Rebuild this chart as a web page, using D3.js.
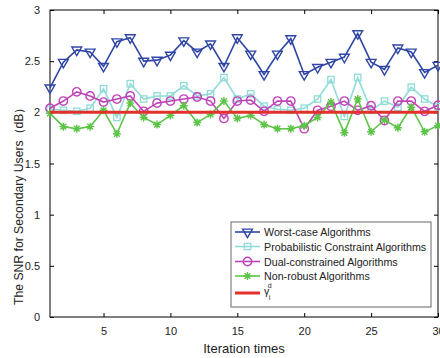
<!DOCTYPE html>
<html>
<head>
<meta charset="utf-8">
<script src="https://cdn.jsdelivr.net/npm/d3@7"></script>
<style>
  body { margin: 0; background: #fff; }
  text { font-family: "Liberation Sans", Arial, sans-serif; fill: #222; }
</style>
</head>
<body>
<div id="chart"></div>
<script>
// iteration index 1..30
const iterations = d3.range(1, 31);

const worstCase = [2.24, 2.49, 2.61, 2.59, 2.45, 2.69, 2.73, 2.50, 2.51, 2.56,
                   2.70, 2.59, 2.67, 2.45, 2.73, 2.57, 2.37, 2.57, 2.72, 2.37,
                   2.44, 2.49, 2.54, 2.77, 2.49, 2.42, 2.63, 2.59, 2.39, 2.46];
const probabilistic = [2.03, 2.02, 2.01, 2.04, 2.23, 1.95, 2.28, 2.13, 2.16, 2.16,
                       2.26, 2.16, 2.18, 2.34, 2.13, 2.18, 2.06, 2.03, 2.02, 2.04,
                       2.13, 2.32, 1.96, 2.34, 2.02, 2.11, 2.05, 2.245, 2.13, 2.055];
const dualConstrained = [2.04, 2.11, 2.20, 2.16, 2.10, 2.13, 2.16, 2.01, 2.09, 2.11,
                         2.13, 2.15, 2.11, 1.94, 2.11, 2.12, 2.01, 2.11, 2.11, 1.84,
                         2.02, 2.06, 2.11, 2.02, 2.065, 1.92, 2.11, 2.11, 2.01, 2.07];
const nonRobust = [1.99, 1.86, 1.84, 1.86, 2.02, 1.79, 2.09, 1.95, 1.88, 1.97,
                   2.065, 1.90, 1.98, 2.11, 1.94, 1.97, 1.88, 1.84, 1.84, 1.87,
                   1.95, 2.10, 1.80, 2.13, 1.81, 1.925, 1.85, 2.05, 1.81, 1.87];
const threshold = 2;

const xTicks = [5, 10, 15, 20, 25, 30];
const yTicks = [0, 0.5, 1, 1.5, 2, 2.5, 3];

const series = [
  { name: "Worst-case Algorithms", values: worstCase, color: "#2f46a6", marker: "tri" },
  { name: "Probabilistic Constraint Algorithms", values: probabilistic, color: "#8fdcd8", marker: "square" },
  { name: "Dual-constrained Algorithms", values: dualConstrained, color: "#c044b8", marker: "circle" },
  { name: "Non-robust Algorithms", values: nonRobust, color: "#5cc447", marker: "star" }
];

const width = 440, height = 358;
const margin = { left: 50, right: 2, top: 10, bottom: 41 };
const innerW = width - margin.left - margin.right;
const innerH = height - margin.top - margin.bottom;

const svg = d3.select("#chart").append("svg")
  .attr("width", width)
  .attr("height", height);

const g = svg.append("g")
  .attr("transform", `translate(${margin.left},${margin.top})`);

const x = d3.scaleLinear().domain([1, 30]).range([0, innerW]);
const y = d3.scaleLinear().domain([0, 3]).range([innerH, 0]);

// axes (MATLAB style, ticks inward, box on)
const axisFont = "11px";
g.append("g")
  .attr("transform", `translate(0,${innerH})`)
  .call(d3.axisBottom(x).tickValues(xTicks).tickSize(-4).tickPadding(10).tickFormat(d3.format("d")))
  .call(a => a.select(".domain").remove())
  .call(a => a.selectAll("text").style("font-size", axisFont).attr("fill", "#222"));
g.append("g")
  .call(d3.axisTop(x).tickValues(xTicks).tickSize(-4).tickFormat(""))
  .call(a => a.select(".domain").remove());
g.append("g")
  .call(d3.axisLeft(y).tickValues(yTicks).tickSize(-4).tickPadding(10).tickFormat(d => d))
  .call(a => a.select(".domain").remove())
  .call(a => a.selectAll("text").style("font-size", axisFont).attr("fill", "#222"));
g.append("g")
  .attr("transform", `translate(${innerW},0)`)
  .call(d3.axisRight(y).tickValues(yTicks).tickSize(-4).tickFormat(""))
  .call(a => a.select(".domain").remove());

g.append("rect")
  .attr("width", innerW)
  .attr("height", innerH)
  .attr("fill", "none")
  .attr("stroke", "#000")
  .attr("stroke-width", 1);

// marker drawing
function drawMarker(sel, type, color) {
  if (type === "tri") {
    sel.append("path")
      .attr("d", d3.symbol(d3.symbolTriangle, 42)())
      .attr("transform", "rotate(180)")
      .attr("fill", "none").attr("stroke", color).attr("stroke-width", 1.4);
  } else if (type === "square") {
    sel.append("rect")
      .attr("x", -3.2).attr("y", -3.2).attr("width", 6.4).attr("height", 6.4)
      .attr("fill", "none").attr("stroke", color).attr("stroke-width", 1.3);
  } else if (type === "circle") {
    sel.append("circle")
      .attr("r", 4.2)
      .attr("fill", "none").attr("stroke", color).attr("stroke-width", 1.4);
  } else if (type === "star") {
    const r = 4, d = r * 0.72;
    sel.append("path")
      .attr("d", `M${-r},0L${r},0M0,${-r}L0,${r}M${-d},${-d}L${d},${d}M${-d},${d}L${d},${-d}`)
      .attr("fill", "none").attr("stroke", color).attr("stroke-width", 1.4);
  }
}

const line = d3.line()
  .x((d, i) => x(iterations[i]))
  .y(d => y(d));

series.forEach(s => {
  g.append("path")
    .datum(s.values)
    .attr("fill", "none")
    .attr("stroke", s.color)
    .attr("stroke-width", 1.6)
    .attr("d", line);
  g.selectAll(null)
    .data(s.values)
    .enter().append("g")
    .attr("transform", (d, i) => `translate(${x(iterations[i])},${y(d)})`)
    .each(function () { drawMarker(d3.select(this), s.marker, s.color); });
});

// threshold gamma line
g.append("line")
  .attr("x1", x(1)).attr("x2", x(30))
  .attr("y1", y(threshold)).attr("y2", y(threshold))
  .attr("stroke", "#e2302a")
  .attr("stroke-width", 3);

// axis labels
svg.append("text")
  .attr("x", margin.left + innerW / 2)
  .attr("y", 353)
  .attr("text-anchor", "middle")
  .style("font-size", "13px")
  .text("Iteration times");

svg.append("text")
  .attr("transform", "translate(23,305) rotate(-90)")
  .attr("text-anchor", "start")
  .style("font-size", "12.2px")
  .text("The SNR for Secondary Users（dB）");

// legend
const legend = svg.append("g").attr("transform", "translate(231,222)");
legend.append("rect")
  .attr("width", 200).attr("height", 85)
  .attr("fill", "#fff")
  .attr("stroke", "#666")
  .attr("stroke-width", 1);

const rowY = [10, 24.5, 39.5, 54, 71];
series.forEach((s, i) => {
  const row = legend.append("g").attr("transform", `translate(0,${rowY[i]})`);
  row.append("line")
    .attr("x1", 4).attr("x2", 29)
    .attr("stroke", s.color).attr("stroke-width", 1.6);
  drawMarker(row.append("g").attr("transform", "translate(16.5,0)"), s.marker, s.color);
  row.append("text")
    .attr("x", 33).attr("y", 4)
    .style("font-size", "10.7px")
    .text(s.name);
});
const gRow = legend.append("g").attr("transform", `translate(0,${rowY[4]})`);
gRow.append("line")
  .attr("x1", 4).attr("x2", 29)
  .attr("stroke", "#e2302a").attr("stroke-width", 3);
const gText = gRow.append("text").attr("x", 33).attr("y", 2).style("font-size", "10.5px");
gText.append("tspan").text("γ");
gText.append("tspan").attr("dx", -0.5).attr("dy", 5).style("font-size", "7px").text("i");
gText.append("tspan").attr("dx", -2.5).attr("dy", -12).style("font-size", "7px").text("d");
</script>
</body>
</html>
